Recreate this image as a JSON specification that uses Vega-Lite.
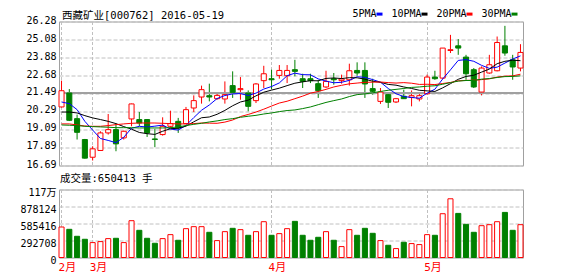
{
  "$schema": "https://vega.github.io/schema/vega-lite/v6.json",
  "background": "white",
  "padding": {"left": 19, "top": 8.5, "right": 5, "bottom": 3},
  "config": {
    "view": {"stroke": "#a0a0a0", "fill": "white"},
    "axis": {"labelFont": "DejaVu Sans Mono, Noto Sans CJK SC", "labelFontSize": 10, "labelColor": "black", "ticks": false, "domain": false, "gridColor": "#c0c0c0", "gridDash": [4, 2], "title": null, "labelOverlap": false, "tickCount": 20},
    "title": {"font": "DejaVu Sans Mono, Noto Sans CJK SC", "fontSize": 10.5, "fontWeight": "normal", "anchor": "start", "color": "black", "frame": "group"}
  },
  "datasets": {
    "k": [
      {"d":"2016-02-24","o":20.59,"h":22.34,"l":20.55,"c":21.67,"v":525100,"5PMA":20.92,"10PMA":20.25,"20PMA":19.46,"30PMA":19.39},
      {"d":"2016-02-25","o":21.52,"h":21.78,"l":19.65,"c":19.70,"v":485100,"5PMA":20.81,"10PMA":20.25,"20PMA":19.46,"30PMA":19.37},
      {"d":"2016-02-26","o":19.81,"h":20.08,"l":18.42,"c":18.90,"v":365100,"5PMA":20.41,"10PMA":20.19,"20PMA":19.39,"30PMA":19.35},
      {"d":"2016-02-29","o":18.42,"h":18.46,"l":17.15,"c":17.18,"v":313700,"5PMA":19.63,"10PMA":20.01,"20PMA":19.32,"30PMA":19.30},
      {"d":"2016-03-01","o":17.24,"h":17.97,"l":17.02,"c":17.80,"v":256600,"5PMA":19.05,"10PMA":19.86,"20PMA":19.30,"30PMA":19.28},
      {"d":"2016-03-02","o":17.69,"h":18.97,"l":17.69,"c":18.86,"v":273800,"5PMA":18.49,"10PMA":19.75,"20PMA":19.30,"30PMA":19.26},
      {"d":"2016-03-03","o":18.86,"h":20.12,"l":18.75,"c":19.08,"v":325200,"5PMA":18.36,"10PMA":19.63,"20PMA":19.35,"30PMA":19.24},
      {"d":"2016-03-04","o":19.08,"h":19.48,"l":17.64,"c":18.13,"v":330800,"5PMA":18.21,"10PMA":19.48,"20PMA":19.41,"30PMA":19.21},
      {"d":"2016-03-07","o":18.53,"h":19.01,"l":18.42,"c":18.97,"v":256600,"5PMA":18.57,"10PMA":19.28,"20PMA":19.46,"30PMA":19.21},
      {"d":"2016-03-08","o":19.79,"h":20.81,"l":19.30,"c":20.79,"v":633700,"5PMA":19.17,"10PMA":19.11,"20PMA":19.50,"30PMA":19.21},
      {"d":"2016-03-09","o":19.75,"h":20.25,"l":19.30,"c":19.52,"v":468000,"5PMA":19.30,"10PMA":18.89,"20PMA":19.52,"30PMA":19.19},
      {"d":"2016-03-10","o":19.75,"h":19.77,"l":18.59,"c":18.86,"v":330800,"5PMA":19.25,"10PMA":18.81,"20PMA":19.52,"30PMA":19.19},
      {"d":"2016-03-11","o":18.46,"h":19.13,"l":17.91,"c":18.42,"v":245100,"5PMA":19.31,"10PMA":18.76,"20PMA":19.52,"30PMA":19.19},
      {"d":"2016-03-14","o":18.75,"h":19.90,"l":18.68,"c":19.30,"v":325200,"5PMA":19.38,"10PMA":18.97,"20PMA":19.50,"30PMA":19.19},
      {"d":"2016-03-15","o":19.30,"h":20.34,"l":19.19,"c":19.48,"v":393800,"5PMA":19.12,"10PMA":19.14,"20PMA":19.48,"30PMA":19.21},
      {"d":"2016-03-16","o":19.63,"h":19.86,"l":18.86,"c":19.19,"v":296600,"5PMA":19.05,"10PMA":19.17,"20PMA":19.46,"30PMA":19.26},
      {"d":"2016-03-17","o":19.48,"h":20.59,"l":19.45,"c":20.41,"v":496600,"5PMA":19.36,"10PMA":19.31,"20PMA":19.46,"30PMA":19.35},
      {"d":"2016-03-18","o":20.52,"h":21.36,"l":20.25,"c":21.01,"v":530900,"5PMA":19.88,"10PMA":19.60,"20PMA":19.48,"30PMA":19.43},
      {"d":"2016-03-21","o":21.25,"h":22.01,"l":20.81,"c":21.74,"v":530900,"5PMA":20.37,"10PMA":19.87,"20PMA":19.52,"30PMA":19.50},
      {"d":"2016-03-22","o":21.34,"h":22.14,"l":20.96,"c":21.25,"v":433700,"5PMA":20.72,"10PMA":19.92,"20PMA":19.51,"30PMA":19.59},
      {"d":"2016-03-23","o":21.14,"h":21.52,"l":21.07,"c":21.36,"v":290900,"5PMA":21.15,"10PMA":20.10,"20PMA":19.50,"30PMA":19.66},
      {"d":"2016-03-24","o":21.12,"h":22.29,"l":20.81,"c":21.41,"v":445200,"5PMA":21.35,"10PMA":20.36,"20PMA":19.58,"30PMA":19.75},
      {"d":"2016-03-25","o":22.01,"h":22.96,"l":21.19,"c":21.56,"v":502300,"5PMA":21.46,"10PMA":20.67,"20PMA":19.72,"30PMA":19.81},
      {"d":"2016-03-28","o":21.74,"h":22.58,"l":21.07,"c":21.81,"v":479500,"5PMA":21.48,"10PMA":20.92,"20PMA":19.95,"30PMA":19.90},
      {"d":"2016-03-29","o":21.52,"h":21.69,"l":20.30,"c":20.63,"v":382300,"5PMA":21.35,"10PMA":21.04,"20PMA":20.09,"30PMA":19.97},
      {"d":"2016-03-30","o":21.01,"h":22.18,"l":20.85,"c":22.12,"v":445200,"5PMA":21.51,"10PMA":21.33,"20PMA":20.25,"30PMA":20.03},
      {"d":"2016-03-31","o":22.34,"h":23.33,"l":21.85,"c":22.80,"v":616600,"5PMA":21.78,"10PMA":21.57,"20PMA":20.44,"30PMA":20.12},
      {"d":"2016-04-01","o":22.47,"h":23.07,"l":21.78,"c":22.40,"v":382300,"5PMA":21.95,"10PMA":21.71,"20PMA":20.65,"30PMA":20.19},
      {"d":"2016-04-05","o":22.69,"h":23.38,"l":22.47,"c":23.02,"v":410900,"5PMA":22.19,"10PMA":21.84,"20PMA":20.85,"30PMA":20.28},
      {"d":"2016-04-06","o":22.67,"h":23.38,"l":22.18,"c":23.02,"v":496600,"5PMA":22.67,"10PMA":22.01,"20PMA":20.97,"30PMA":20.35},
      {"d":"2016-04-07","o":23.07,"h":23.73,"l":22.63,"c":22.96,"v":622300,"5PMA":22.84,"10PMA":22.17,"20PMA":21.14,"30PMA":20.39},
      {"d":"2016-04-08","o":22.47,"h":22.80,"l":21.85,"c":22.29,"v":382300,"5PMA":22.74,"10PMA":22.26,"20PMA":21.31,"30PMA":20.48},
      {"d":"2016-04-11","o":22.47,"h":22.80,"l":22.18,"c":22.34,"v":296600,"5PMA":22.73,"10PMA":22.34,"20PMA":21.51,"30PMA":20.59},
      {"d":"2016-04-12","o":22.14,"h":22.40,"l":21.19,"c":21.67,"v":348000,"5PMA":22.46,"10PMA":22.33,"20PMA":21.62,"30PMA":20.74},
      {"d":"2016-04-13","o":21.92,"h":23.00,"l":21.85,"c":22.29,"v":445200,"5PMA":22.31,"10PMA":22.49,"20PMA":21.76,"30PMA":20.89},
      {"d":"2016-04-14","o":22.47,"h":22.85,"l":22.07,"c":22.40,"v":296600,"5PMA":22.20,"10PMA":22.52,"20PMA":21.92,"30PMA":21.01},
      {"d":"2016-04-15","o":22.34,"h":22.74,"l":22.14,"c":22.45,"v":188000,"5PMA":22.23,"10PMA":22.48,"20PMA":22.03,"30PMA":21.12},
      {"d":"2016-04-18","o":22.40,"h":23.47,"l":22.01,"c":23.00,"v":479500,"5PMA":22.36,"10PMA":22.54,"20PMA":22.13,"30PMA":21.28},
      {"d":"2016-04-19","o":23.02,"h":23.56,"l":22.67,"c":22.85,"v":382300,"5PMA":22.60,"10PMA":22.53,"20PMA":22.18,"30PMA":21.41},
      {"d":"2016-04-20","o":23.02,"h":23.56,"l":21.19,"c":22.12,"v":502300,"5PMA":22.56,"10PMA":22.44,"20PMA":22.23,"30PMA":21.46},
      {"d":"2016-04-21","o":21.81,"h":22.47,"l":21.41,"c":21.63,"v":416600,"5PMA":22.41,"10PMA":22.30,"20PMA":22.24,"30PMA":21.53},
      {"d":"2016-04-22","o":20.96,"h":21.85,"l":20.79,"c":21.58,"v":290900,"5PMA":22.24,"10PMA":22.23,"20PMA":22.25,"30PMA":21.62},
      {"d":"2016-04-25","o":21.41,"h":21.52,"l":20.52,"c":20.90,"v":210900,"5PMA":21.82,"10PMA":22.09,"20PMA":22.21,"30PMA":21.70},
      {"d":"2016-04-26","o":20.92,"h":21.19,"l":20.85,"c":21.14,"v":153800,"5PMA":21.47,"10PMA":22.04,"20PMA":22.18,"30PMA":21.76},
      {"d":"2016-04-27","o":21.30,"h":21.74,"l":21.12,"c":21.14,"v":262300,"5PMA":21.28,"10PMA":21.92,"20PMA":22.21,"30PMA":21.82},
      {"d":"2016-04-28","o":21.23,"h":21.69,"l":20.63,"c":21.34,"v":239500,"5PMA":21.22,"10PMA":21.82,"20PMA":22.17,"30PMA":21.89},
      {"d":"2016-04-29","o":21.12,"h":21.52,"l":20.96,"c":21.34,"v":222300,"5PMA":21.17,"10PMA":21.70,"20PMA":22.09,"30PMA":21.92},
      {"d":"2016-05-03","o":21.47,"h":22.74,"l":21.41,"c":22.58,"v":393800,"5PMA":21.51,"10PMA":21.66,"20PMA":22.10,"30PMA":21.97},
      {"d":"2016-05-04","o":22.58,"h":23.00,"l":22.40,"c":22.47,"v":382300,"5PMA":21.77,"10PMA":21.62,"20PMA":22.08,"30PMA":22.00},
      {"d":"2016-05-05","o":22.51,"h":24.51,"l":22.47,"c":24.51,"v":753700,"5PMA":22.45,"10PMA":21.86,"20PMA":22.15,"30PMA":22.10},
      {"d":"2016-05-06","o":24.35,"h":25.39,"l":24.18,"c":24.40,"v":1010900,"5PMA":23.06,"10PMA":22.14,"20PMA":22.22,"30PMA":22.21},
      {"d":"2016-05-09","o":24.66,"h":25.11,"l":24.06,"c":24.51,"v":759400,"5PMA":23.69,"10PMA":22.43,"20PMA":22.33,"30PMA":22.31},
      {"d":"2016-05-10","o":23.91,"h":24.06,"l":22.40,"c":22.80,"v":570800,"5PMA":23.74,"10PMA":22.62,"20PMA":22.36,"30PMA":22.35},
      {"d":"2016-05-11","o":23.07,"h":23.18,"l":21.85,"c":21.92,"v":433700,"5PMA":23.63,"10PMA":22.70,"20PMA":22.37,"30PMA":22.35},
      {"d":"2016-05-12","o":21.58,"h":23.29,"l":21.36,"c":23.18,"v":548000,"5PMA":23.36,"10PMA":22.91,"20PMA":22.41,"30PMA":22.44},
      {"d":"2016-05-13","o":22.85,"h":24.06,"l":22.80,"c":23.40,"v":565200,"5PMA":23.16,"10PMA":23.11,"20PMA":22.46,"30PMA":22.48},
      {"d":"2016-05-16","o":23.00,"h":25.28,"l":22.96,"c":24.88,"v":616600,"5PMA":23.24,"10PMA":23.47,"20PMA":22.58,"30PMA":22.55},
      {"d":"2016-05-17","o":24.66,"h":25.99,"l":24.00,"c":24.18,"v":776600,"5PMA":23.51,"10PMA":23.63,"20PMA":22.64,"30PMA":22.61},
      {"d":"2016-05-18","o":23.73,"h":24.06,"l":22.40,"c":23.25,"v":468000,"5PMA":23.78,"10PMA":23.70,"20PMA":22.66,"30PMA":22.62},
      {"d":"2016-05-19","o":23.18,"h":24.77,"l":22.96,"c":24.22,"v":565200,"5PMA":23.99,"10PMA":23.67,"20PMA":22.77,"30PMA":22.66}
    ]
  },
  "data": {"name": "k"},
  "bounds": "flush",
  "spacing": 24,
  "vconcat": [
    {
      "width": 464,
      "height": 144,
      "title": {"text": "西藏矿业[000762] 2016-05-19", "offset": -14.5, "baseline": "alphabetic", "dx": 3},
      "layer": [
        {
          "mark": {"type": "rule", "strokeWidth": 1},
          "encoding": {
            "x": {"field": "d", "type": "ordinal", "scale": {"type": "band", "paddingInner": 0.35, "paddingOuter": 0},
                  "axis": {"values": ["2016-02-24", "2016-03-01", "2016-04-01", "2016-05-03"], "labels": false, "grid": true, "gridDash": [3, 2], "bandPosition": 0.5}},
            "y": {"field": "l", "type": "quantitative", "scale": {"domain": [16.69, 26.28], "nice": false, "zero": false},
                  "axis": {"values": [16.69, 17.89, 19.09, 20.29, 21.49, 22.68, 23.88, 25.08, 26.28], "format": ".2f", "labelPadding": 3, "labelOffset": -1.5, "labelOverlap": false, "grid": true, "tickCount": 20}},
            "y2": {"field": "h"},
            "color": {"condition": {"test": "datum.c >= datum.o", "value": "#ff0000"}, "value": "#008000"}
          }
        },
        {
          "mark": {"type": "rule", "color": "#a0a0a0", "strokeWidth": 1},
          "encoding": {"y": {"datum": 21.49, "type": "quantitative"}}
        },
        {
          "mark": {"type": "bar", "strokeWidth": 1},
          "encoding": {
            "x": {"field": "d", "type": "ordinal"},
            "y": {"field": "o", "type": "quantitative"},
            "y2": {"field": "c"},
            "fill": {"condition": {"test": "datum.c >= datum.o", "value": "#ffffff"}, "value": "#008000"},
            "stroke": {"condition": {"test": "datum.c >= datum.o", "value": "#ff0000"}, "value": "#008000"}
          }
        },
        {
          "transform": [{"fold": ["5PMA", "10PMA", "20PMA", "30PMA"], "as": ["ma", "val"]}],
          "mark": {"type": "line", "strokeWidth": 1},
          "encoding": {
            "x": {"field": "d", "type": "ordinal"},
            "y": {"field": "val", "type": "quantitative"},
            "color": {"field": "ma", "type": "nominal",
                      "scale": {"domain": ["5PMA", "10PMA", "20PMA", "30PMA"], "range": ["#0000ff", "#000000", "#ff0000", "#008000"]},
                      "legend": {"title": null, "orient": "none", "direction": "horizontal", "legendX": 315.5, "legendY": -12.4,
                                 "symbolType": "stroke", "symbolSize": 36, "symbolStrokeWidth": 3,
                                 "labelAlign": "right", "labelOffset": -8, "labelFont": "DejaVu Sans Mono", "labelFontSize": 10,
                                 "labelColor": "black", "columnPadding": 2, "padding": 0}}
          }
        }
      ]
    },
    {
      "width": 464,
      "height": 68,
      "title": {"text": "成交量:650413 手", "offset": -4.5, "baseline": "alphabetic", "dx": 1},
      "mark": {"type": "bar", "strokeWidth": 1},
      "encoding": {
        "x": {"field": "d", "type": "ordinal", "scale": {"type": "band", "paddingInner": 0.35, "paddingOuter": 0},
              "axis": {"values": ["2016-02-24", "2016-03-01", "2016-04-01", "2016-05-03"], "labelExpr": "toNumber(slice(datum.value, 5, 7)) + '月'",
                       "labelColor": "#ff0000", "labelAlign": "left", "labelOffset": -3, "labelPadding": 4, "labelAngle": 0, "labelFontSize": 11,
                       "grid": true, "gridDash": [3, 2], "bandPosition": 0.5}},
        "y": {"field": "v", "type": "quantitative", "scale": {"domain": [0, 1170832], "nice": false},
              "axis": {"values": [0, 292708, 585416, 878124, 1170832], "labelExpr": "datum.value > 1170000 ? '117万' : format(datum.value, 'd')", "labelPadding": 3, "labelOffset": 3, "grid": true, "tickCount": 20}},
        "y2": {"datum": 0},
        "fill": {"condition": {"test": "datum.c >= datum.o", "value": "#ffffff"}, "value": "#008000"},
        "stroke": {"condition": {"test": "datum.c >= datum.o", "value": "#ff0000"}, "value": "#008000"}
      }
    }
  ]
}
